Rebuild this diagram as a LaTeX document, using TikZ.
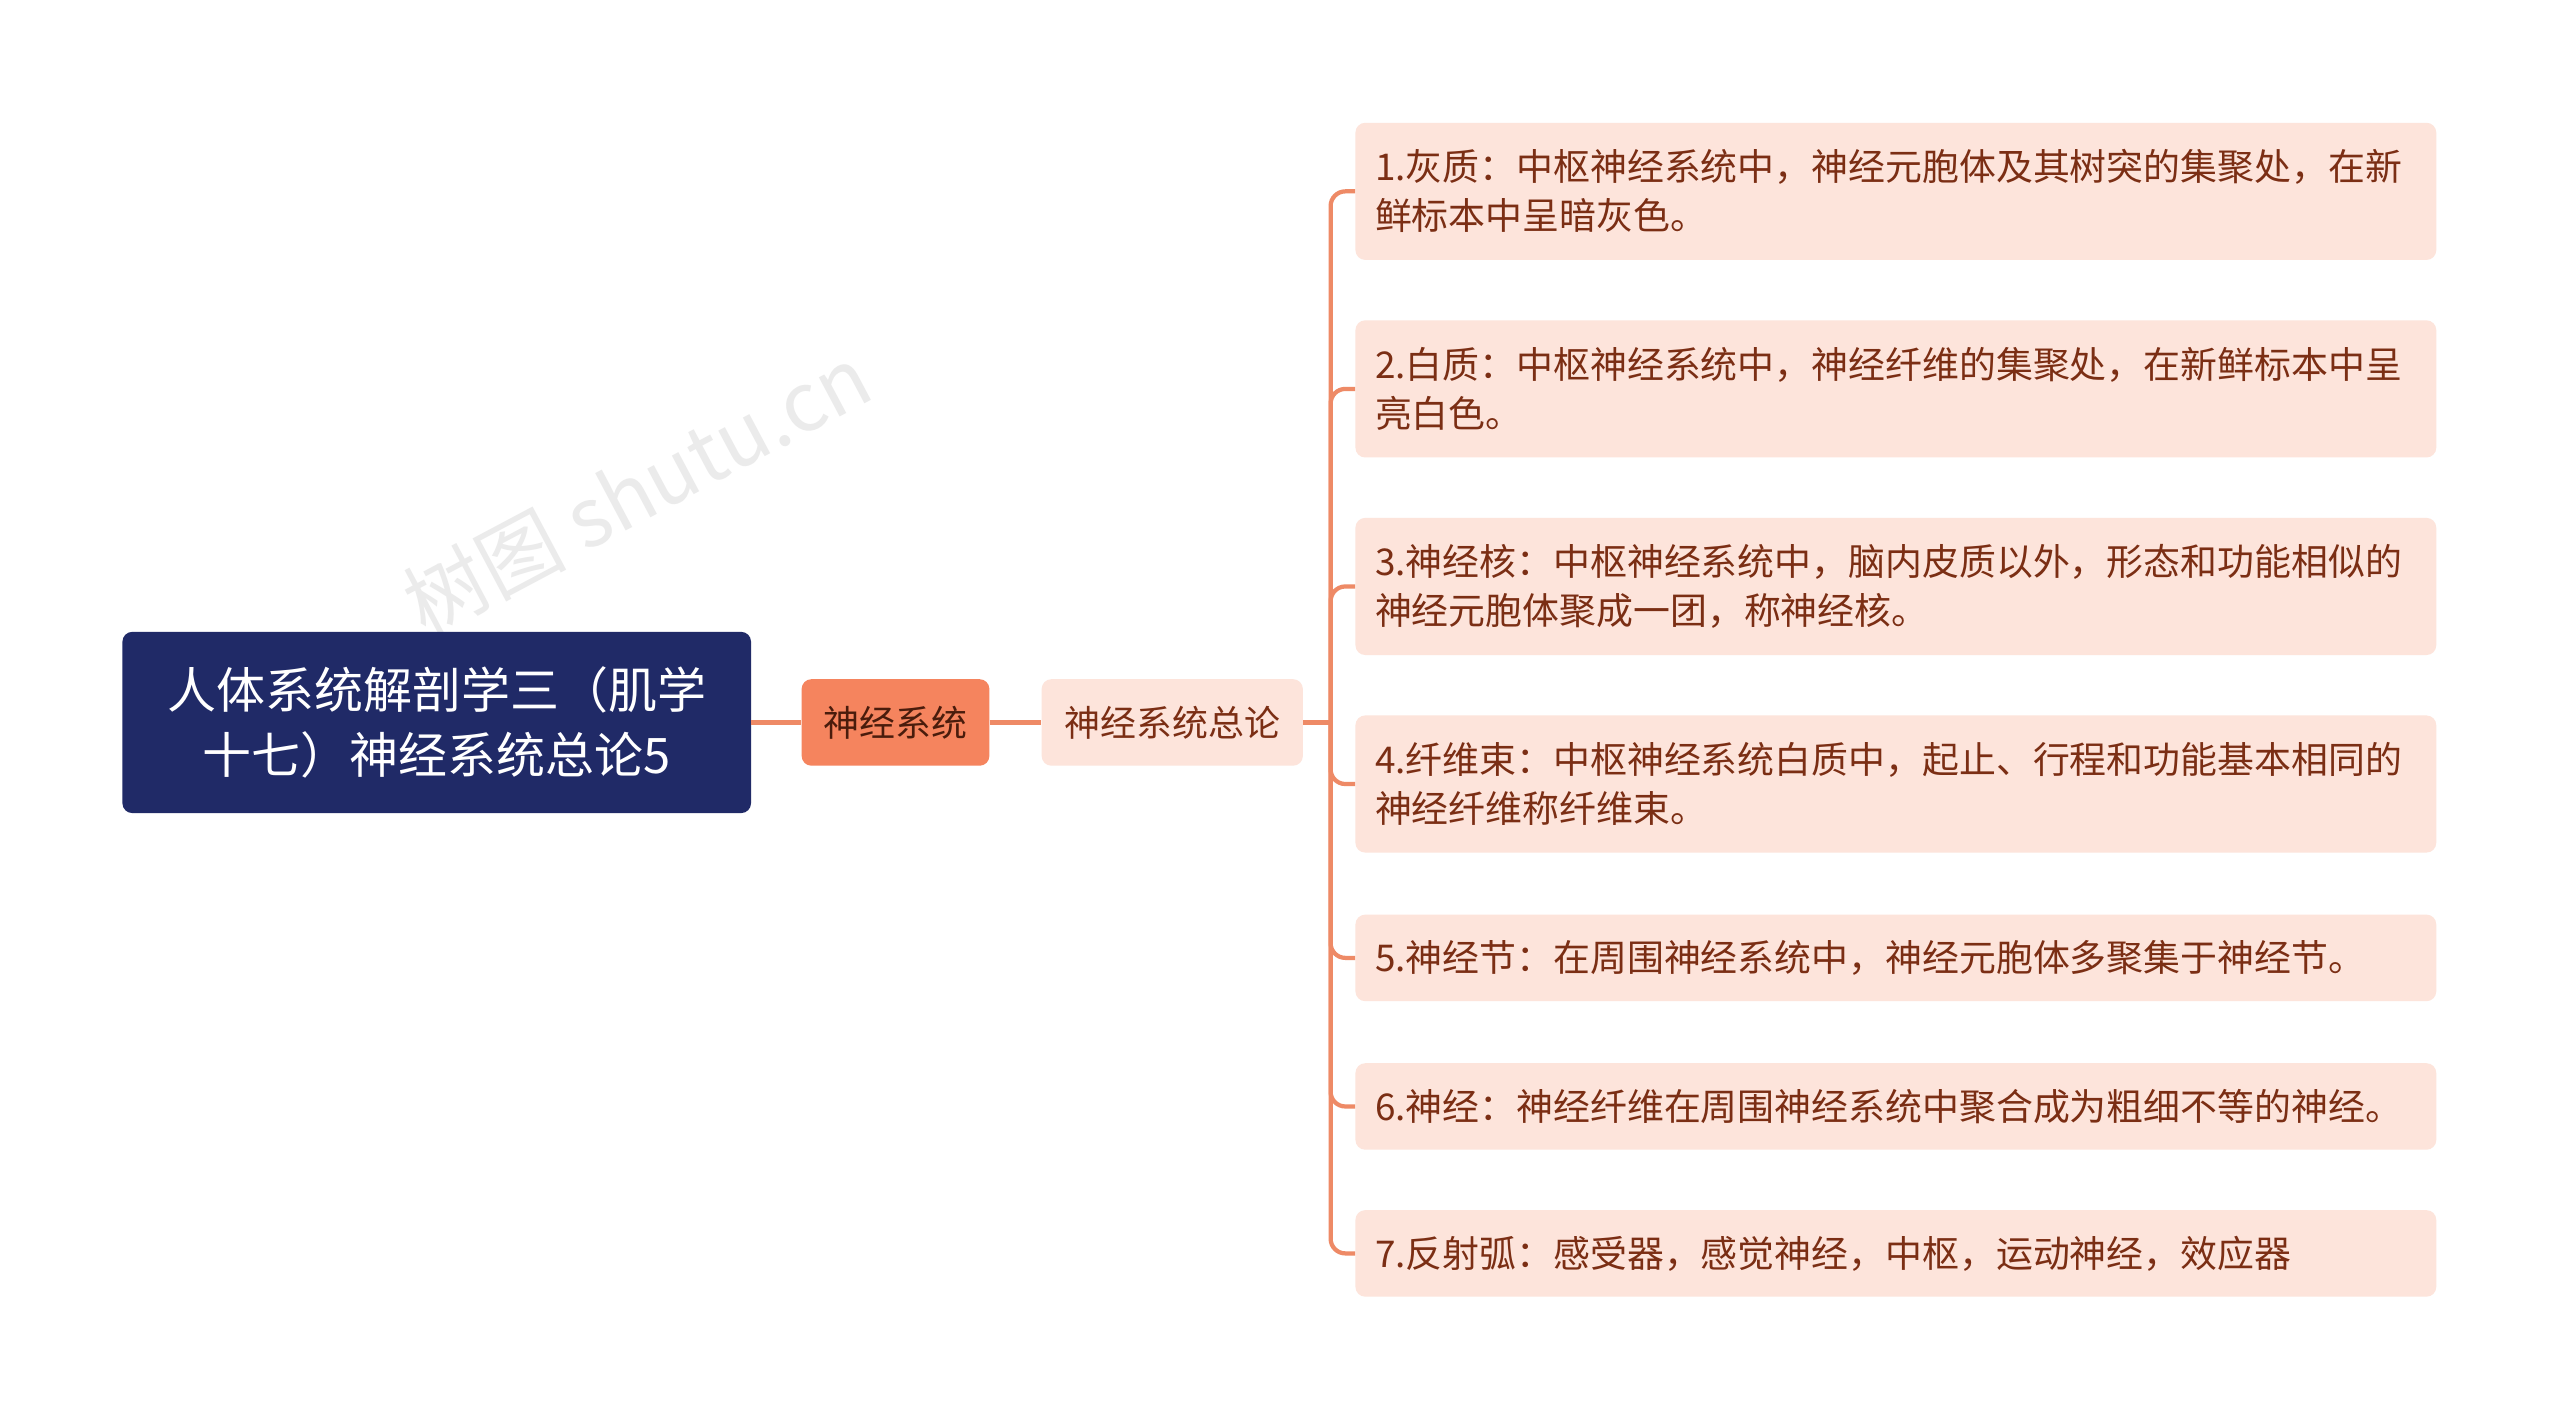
\documentclass[tikz,border=0pt]{standalone}
\usepackage{fontspec}
\setmainfont{Noto Sans CJK SC}
\begin{document}
\begin{tikzpicture}[x=1pt,y=-1pt,
  conn/.style={draw=linec,line width=2.6pt},
  leaf/.style={fill=leafc,rounded corners=6pt,anchor=north west,text=leaftext,font=\fontsize{22.6}{30}\selectfont,align=left,inner xsep=12pt,inner ysep=0pt,text width=638pt,minimum width=662pt},
  wm/.style={text=black!8,font=\fontsize{50}{50}\selectfont,rotate=28}]
\definecolor{linec}{HTML}{EE8A66}
\definecolor{leafc}{HTML}{FDE4DB}
\definecolor{leaftext}{HTML}{7B2E14}
\definecolor{rootc}{HTML}{202A67}
\definecolor{midc}{HTML}{F5845E}
\useasboundingbox (0,0) rectangle (1568,871);
\fill[white] (0,0) rectangle (1568,871);
\node[wm] (w1) at (390,300) {树图 shutu.cn};
\node[fill=rootc,rounded corners=6pt,minimum width=385pt,minimum height=111pt,text=white,align=center,font=\fontsize{30}{40}\selectfont] (r) at (267.5,442.5) {人体系统解剖学三（肌学\\十七）神经系统总论5};
\node[fill=midc,rounded corners=6pt,minimum width=115pt,minimum height=53pt,text=leaftext!60!black,font=\fontsize{22}{26}\selectfont] (a) at (548.5,442.5) {神经系统};
\node[fill=leafc,rounded corners=6pt,minimum width=160pt,minimum height=53pt,text=leaftext,font=\fontsize{22}{26}\selectfont] (b) at (718,442.5) {神经系统总论};
\node[leaf,minimum height=84pt] (l1) at (830,75) {1.灰质：中枢神经系统中，神经元胞体及其树突的集聚处，在新\\鲜标本中呈暗灰色。};
\node[leaf,minimum height=84pt] (l2) at (830,196) {2.白质：中枢神经系统中，神经纤维的集聚处，在新鲜标本中呈\\亮白色。};
\node[leaf,minimum height=84pt] (l3) at (830,317) {3.神经核：中枢神经系统中，脑内皮质以外，形态和功能相似的\\神经元胞体聚成一团，称神经核。};
\node[leaf,minimum height=84pt] (l4) at (830,438) {4.纤维束：中枢神经系统白质中，起止、行程和功能基本相同的\\神经纤维称纤维束。};
\node[leaf,minimum height=53pt] (l5) at (830,560) {5.神经节：在周围神经系统中，神经元胞体多聚集于神经节。};
\node[leaf,minimum height=53pt] (l6) at (830,651) {6.神经：神经纤维在周围神经系统中聚合成为粗细不等的神经。};
\node[leaf,minimum height=53pt] (l7) at (830,741) {7.反射弧：感受器，感觉神经，中枢，运动神经，效应器};
\coordinate (j) at (815,442.5);
\draw[conn] (r.east) -- (a.west);
\draw[conn] (a.east) -- (b.west);
\draw[conn] (b.east) -- (j);
\foreach \n in {l1,l2,l3,l4,l5,l6,l7}
  \draw[conn,rounded corners=9pt] (j) |- (\n.west);
\end{tikzpicture}
\end{document}
